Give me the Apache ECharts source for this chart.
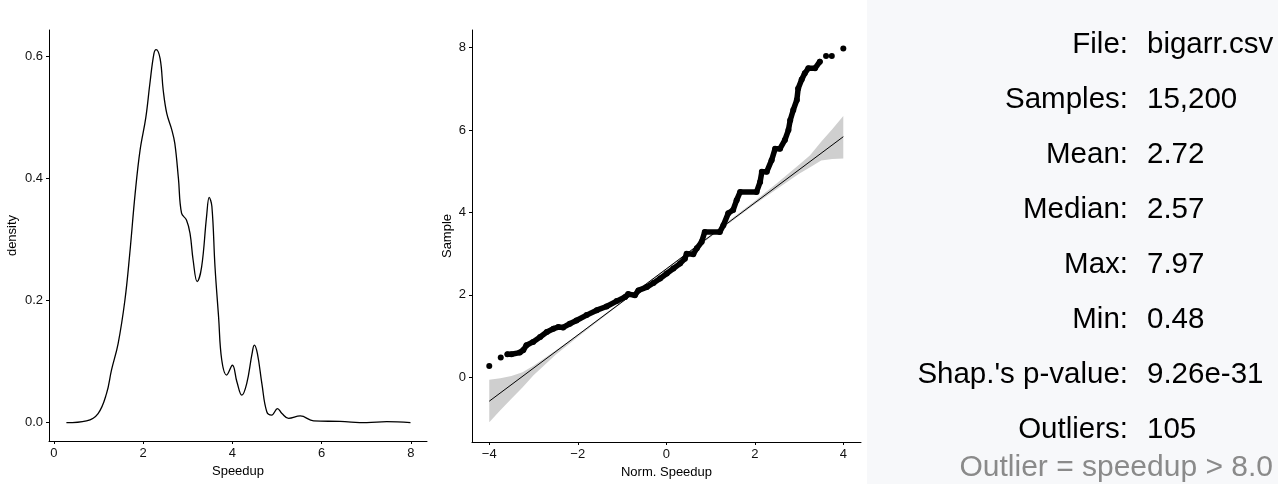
<!DOCTYPE html>
<html>
<head>
    <meta charset="UTF-8">
    <title>Speedup distribution</title>
    <script src="https://cdn.jsdelivr.net/npm/echarts@6.0.0/dist/echarts.min.js"></script>
    <style>
        html, body { margin: 0; padding: 0; background: #fff; }
        #main { width: 1278px; height: 484px; }
    </style>
</head>
<body>
<div id="main"></div>
<script>
    // density curve (left)
    var densityX = [0.28,0.73,0.99,1.18,1.29,1.44,1.59,1.70,1.82,1.93,2.06,2.15,2.24,2.29,2.38,2.45,2.53,2.64,2.71,2.79,2.86,2.97,3.05,3.12,3.21,3.31,3.42,3.48,3.54,3.61,3.69,3.76,3.87,4.00,4.10,4.21,4.32,4.44,4.49,4.56,4.66,4.77,4.88,5.01,5.11,5.26,5.52,5.82,6.41,7.01,7.46,7.99];
    var densityY = [0.000,0.003,0.015,0.048,0.086,0.130,0.200,0.277,0.375,0.446,0.500,0.555,0.604,0.611,0.596,0.544,0.506,0.480,0.457,0.400,0.343,0.332,0.310,0.266,0.231,0.255,0.337,0.369,0.354,0.255,0.173,0.103,0.078,0.094,0.067,0.045,0.064,0.113,0.127,0.113,0.064,0.018,0.0125,0.023,0.015,0.007,0.011,0.003,0.002,0.000,0.0016,0.000];
    var densityTicksX = [0, 2, 4, 6, 8];
    var densityTicksY = [0, 0.2, 0.4, 0.6];

    // QQ plot (middle)
    var qqX = [-3.59,-3.50,-3.31,-3.23,-3.16,-3.01,-2.85,-2.70,-2.55,-2.44,-2.33,-2.18,-2.03,-1.80,-1.57,-1.35,-1.12,-0.93,-0.86,-0.71,-0.63,-0.44,-0.29,-0.14,0.01,0.16,0.31,0.42,0.46,0.61,0.69,0.80,0.87,1.21,1.29,1.40,1.51,1.59,1.67,2.04,2.12,2.16,2.27,2.38,2.46,2.57,2.68,2.76,2.80,2.87,2.95,2.98,3.06,3.13,3.21,3.36,3.47];
    var qqY = [0.56,0.56,0.60,0.66,0.78,0.86,0.98,1.10,1.18,1.22,1.21,1.30,1.38,1.51,1.63,1.72,1.85,1.95,2.02,1.99,2.11,2.19,2.29,2.40,2.52,2.64,2.76,2.88,3.00,2.99,3.13,3.29,3.53,3.53,3.69,3.98,4.06,4.30,4.50,4.50,4.74,4.99,4.99,5.27,5.55,5.55,5.76,6.00,6.24,6.49,6.73,7.01,7.23,7.38,7.50,7.50,7.66];
    var qqOutX = [-4.00,-3.74,3.61,3.74,4.00];
    var qqOutY = [0.275,0.48,7.80,7.80,7.98];
    var refX = [-4, 4];
    var refY = [-0.58, 5.84];
    var bandX = [-4,-3.75,-3.5,-3.25,-3,-2.5,-2,-1,0,1,2,2.5,3,3.25,3.5,3.75,4];
    var bandLo = [-1.09,-0.80,-0.52,-0.25,0.05,0.55,0.98,1.81,2.61,3.40,4.20,4.57,4.94,5.10,5.26,5.30,5.31];
    var bandHi = [-0.06,-0.02,0.03,0.12,0.28,0.65,1.04,1.85,2.65,3.46,4.28,4.71,5.16,5.39,5.72,6.02,6.34];
    var qqTicksX = [-4, -2, 0, 2, 4];
    var qqTicksY = [0, 2, 4, 6, 8];

    // stats panel (right)
    var statLabels = ['File:', 'Samples:', 'Mean:', 'Median:', 'Max:', 'Min:', "Shap.'s p-value:", 'Outliers:'];
    var statValues = ['bigarr.csv', '15,200', '2.72', '2.57', '7.97', '0.48', '9.26e-31', '105'];
    var statNote = 'Outlier = speedup > 8.0';

    function zip(a, b) {
        return a.map(function (v, i) { return [v, b[i]]; });
    }

    var font = "'Liberation Sans', Arial, Helvetica, sans-serif";

    function valueAxis(min, max, ticks, extra, fmt) {
        var ax = {
            type: 'value', min: min, max: max,
            nameLocation: 'middle',
            nameTextStyle: { color: '#000', fontSize: 13, fontFamily: font },
            axisLine: { show: true, onZero: false, lineStyle: { color: '#000', width: 1 } },
            splitLine: { show: false },
            axisTick: { show: true, length: 3, customValues: ticks, lineStyle: { color: '#000' } },
            axisLabel: {
                customValues: ticks, color: '#111', fontSize: 13, fontFamily: font, margin: 6,
                formatter: fmt || function (v) { return String(v).replace('-', '\u2212'); }
            }
        };
        return Object.assign(ax, extra);
    }

    var chart = echarts.init(document.getElementById('main'));

    var graphics = [{
        type: 'rect', shape: { x: 867, y: 0, width: 411, height: 484 },
        style: { fill: '#f7f8fa' }, z: -10
    }];
    statLabels.forEach(function (lab, i) {
        var y = 45 + i * 55;
        graphics.push({ type: 'text', x: 1128, y: y, style: { text: lab, font: '29.5px ' + font, fill: '#000', align: 'right', verticalAlign: 'middle' } });
        graphics.push({ type: 'text', x: 1147, y: y, style: { text: statValues[i], font: '29.5px ' + font, fill: '#000', align: 'left', verticalAlign: 'middle' } });
    });
    graphics.push({ type: 'text', x: 1273, y: 468, style: { text: statNote, font: '30px ' + font, fill: '#8a8a8a', align: 'right', verticalAlign: 'middle' } });

    var option = {
        animation: false,
        backgroundColor: '#fff',
        grid: [
            { left: 49, top: 30, width: 378, height: 411 },
            { left: 472, top: 30, width: 389, height: 412 }
        ],
        xAxis: [
            valueAxis(-0.11, 8.36, densityTicksX, { gridIndex: 0, name: 'Speedup', nameGap: 18 }),
            valueAxis(-4.39, 4.40, qqTicksX, { gridIndex: 1, name: 'Norm. Speedup', nameGap: 18 })
        ],
        yAxis: [
            valueAxis(-0.03, 0.643, densityTicksY, { gridIndex: 0, name: 'density', nameGap: 30 },
                function (v) { return v.toFixed(1); }),
            valueAxis(-1.57, 8.43, qqTicksY, { gridIndex: 1, name: 'Sample', nameGap: 18 })
        ],
        graphic: graphics,
        series: [
            {
                type: 'line', xAxisIndex: 0, yAxisIndex: 0,
                data: zip(densityX, densityY), smooth: 0.4, symbol: 'none',
                lineStyle: { color: '#000', width: 1.3 }
            },
            {
                // confidence band as one polygon
                type: 'custom', xAxisIndex: 1, yAxisIndex: 1,
                data: [[0, 0]],
                renderItem: function (params, api) {
                    var pts = [];
                    bandX.forEach(function (x, i) { pts.push(api.coord([x, bandHi[i]])); });
                    for (var i = bandX.length - 1; i >= 0; i--) pts.push(api.coord([bandX[i], bandLo[i]]));
                    return { type: 'polygon', shape: { points: pts }, style: { fill: '#cfcfcf' } };
                },
                silent: true, z: 1
            },
            {
                type: 'line', xAxisIndex: 1, yAxisIndex: 1,
                data: zip(refX, refY), symbol: 'none', z: 2,
                lineStyle: { color: '#000', width: 1 }
            },
            {
                type: 'line', xAxisIndex: 1, yAxisIndex: 1,
                data: zip(qqX, qqY), symbol: 'circle', symbolSize: 6, z: 3,
                itemStyle: { color: '#000' },
                lineStyle: { color: '#000', width: 5.5, cap: 'round', join: 'round' }
            },
            {
                type: 'scatter', xAxisIndex: 1, yAxisIndex: 1,
                data: zip(qqOutX, qqOutY), symbolSize: 6, z: 3,
                itemStyle: { color: '#000', opacity: 1 }
            }
        ]
    };

    chart.setOption(option);
</script>
</body>
</html>
